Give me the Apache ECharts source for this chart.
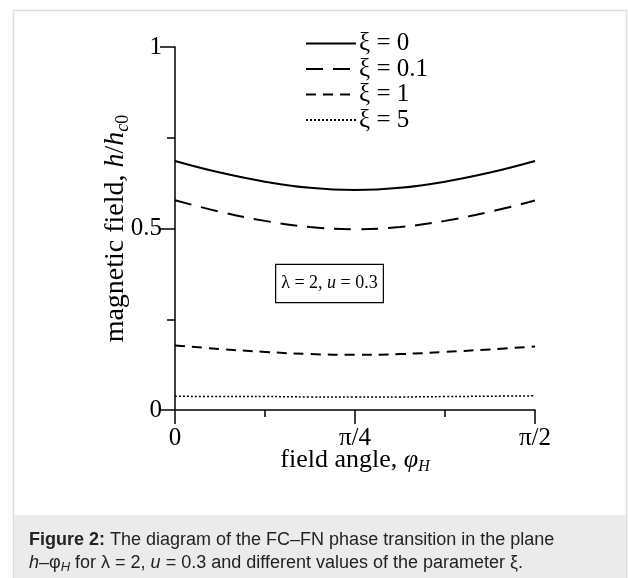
<!DOCTYPE html>
<html>
<head>
<meta charset="utf-8">
<script src="https://cdn.jsdelivr.net/npm/echarts@6/dist/echarts.min.js"></script>
<style>
html,body{margin:0;padding:0;background:#fff;}
#c{width:628px;height:578px;}
</style>
</head>
<body>
<div id="c"></div>
<script>
// angle in degrees: 0 .. 90 (0 .. π/2)
var angles = [0, 11.25, 22.5, 33.75, 45, 56.25, 67.5, 78.75, 90];
var xi0   = [0.686, 0.654, 0.629, 0.612, 0.606, 0.612, 0.629, 0.654, 0.686];
var xi01  = [0.578, 0.546, 0.521, 0.504, 0.498, 0.504, 0.521, 0.546, 0.577];
var xi1   = [0.178, 0.168, 0.160, 0.154, 0.152, 0.154, 0.160, 0.167, 0.175];
var xi5   = [0.038, 0.037, 0.037, 0.036, 0.036, 0.036, 0.037, 0.038, 0.039];
var seriesNames = ['ξ = 0', 'ξ = 0.1', 'ξ = 1', 'ξ = 5'];
var xTickLabels = {0: '0', 45: 'π/4', 90: 'π/2'};
var yTickLabels = {0: '0', 0.5: '0.5', 1: '1'};

function pairs(v) { return angles.map(function (a, i) { return [a, v[i]]; }); }

var serif = 'Liberation Serif';
var chart = echarts.init(document.getElementById('c'));

function mk(name, data, type, width) {
  return {
    name: name, type: 'line', data: pairs(data), smooth: 0.4, symbol: 'none',
    lineStyle: {color: '#000', width: width, type: type, cap: 'butt'},
    itemStyle: {color: '#000'}, silent: true, animation: false
  };
}

chart.setOption({
  animation: false,
  grid: {left: 175, right: 93, top: 47, bottom: 168},
  legend: {
    orient: 'vertical', left: 300, top: 26,
    itemWidth: 50, itemHeight: 10, itemGap: 0.5,
    itemStyle: {opacity: 0},
    textStyle: {fontFamily: serif, fontSize: 25, color: '#000', lineHeight: 24, padding: [0, 0, 0, -2]},
    data: seriesNames
  },
  xAxis: {
    type: 'value', min: 0, max: 90, interval: 45,
    axisLine: {lineStyle: {color: '#000', width: 1.5}},
    axisTick: {length: 14, lineStyle: {color: '#000', width: 1.5}},
    minorTick: {show: true, splitNumber: 2, length: 7, lineStyle: {color: '#000', width: 1.5}},
    splitLine: {show: false},
    axisLabel: {
      margin: 16, fontFamily: serif, fontSize: 25, color: '#000',
      formatter: function (v) { return xTickLabels[v] !== undefined ? xTickLabels[v] : ''; }
    },
    name: '{n|field angle, }{i|φ}{s|H}',
    nameLocation: 'middle', nameGap: 35, nameMoveOverlap: false,
    nameTextStyle: {
      rich: {
        n: {fontFamily: serif, fontSize: 26, color: '#000', lineHeight: 30},
        i: {fontFamily: serif, fontSize: 26, fontStyle: 'italic', color: '#000', lineHeight: 30},
        s: {fontFamily: serif, fontSize: 16, fontStyle: 'italic', color: '#000', lineHeight: 16, verticalAlign: 'bottom'}
      }
    }
  },
  yAxis: {
    type: 'value', min: 0, max: 1, interval: 0.5,
    axisLine: {show: true, lineStyle: {color: '#000', width: 1.5}},
    axisTick: {show: true, length: 15, lineStyle: {color: '#000', width: 1.5}},
    minorTick: {show: true, splitNumber: 2, length: 8, lineStyle: {color: '#000', width: 1.5}},
    splitLine: {show: false},
    axisLabel: {
      margin: 13, fontFamily: serif, fontSize: 25, color: '#000',
      formatter: function (v) { return yTickLabels[v] !== undefined ? yTickLabels[v] : ''; }
    },
    name: '{n|magnetic field, }{i|h}{n|/}{i|h}{s|c}{t|0}',
    nameLocation: 'middle', nameGap: 43, nameMoveOverlap: false,
    nameTextStyle: {
      rich: {
        n: {fontFamily: serif, fontSize: 28, color: '#000', lineHeight: 32},
        i: {fontFamily: serif, fontSize: 28, fontStyle: 'italic', color: '#000', lineHeight: 32},
        s: {fontFamily: serif, fontSize: 18, fontStyle: 'italic', color: '#000', lineHeight: 17, verticalAlign: 'bottom'},
        t: {fontFamily: serif, fontSize: 18, color: '#000', lineHeight: 17, verticalAlign: 'bottom'}
      }
    }
  },
  series: [
    mk(seriesNames[0], xi0, 'solid', 2),
    mk(seriesNames[1], xi01, [17, 10], 2),
    mk(seriesNames[2], xi1, [10, 7], 2),
    mk(seriesNames[3], xi5, [2, 2], 1.5)
  ],
  graphic: [
    {type: 'rect', silent: true, z: -10, shape: {x: 13.5, y: 10.5, width: 613, height: 600},
     style: {fill: '#fff', stroke: '#dddddd', lineWidth: 1.5}},
    {type: 'rect', silent: true, z: -9, shape: {x: 14.25, y: 515, width: 611.5, height: 70},
     style: {fill: '#ebebeb'}},
    {type: 'text', silent: true, x: 329.5, y: 283.5,
     style: {
       text: '{n|λ = 2, }{i|u}{n| = 0.3}', align: 'center', verticalAlign: 'middle',
       borderColor: '#000', borderWidth: 1.2, padding: [6, 5, 6, 5], backgroundColor: '#fff',
       rich: {
         n: {fontFamily: serif, fontSize: 18, fill: '#000', lineHeight: 25},
         i: {fontFamily: serif, fontSize: 18, fontStyle: 'italic', fill: '#000', lineHeight: 25}
       }
     }},
    {type: 'text', silent: true, x: 29, y: 540,
     style: {
       text: '{b|Figure 2:}{n| The diagram of the FC–FN phase transition in the plane}',
       verticalAlign: 'middle',
       rich: {
         b: {fontFamily: 'Liberation Sans', fontSize: 18, fontWeight: 'bold', fill: '#222'},
         n: {fontFamily: 'Liberation Sans', fontSize: 18, fill: '#222'}
       }
     }},
    {type: 'text', silent: true, x: 29, y: 563,
     style: {
       text: '{i|h}{n|–φ}{s|H}{n| for λ = 2, }{i|u}{n| = 0.3 and different values of the parameter ξ.}',
       verticalAlign: 'middle',
       rich: {
         i: {fontFamily: 'Liberation Sans', fontSize: 18, fontStyle: 'italic', fill: '#222', lineHeight: 22},
         n: {fontFamily: 'Liberation Sans', fontSize: 18, fill: '#222', lineHeight: 22},
         s: {fontFamily: 'Liberation Sans', fontSize: 13, fontStyle: 'italic', fill: '#222', lineHeight: 13, verticalAlign: 'bottom'}
       }
     }}
  ]
});
</script>
</body>
</html>
